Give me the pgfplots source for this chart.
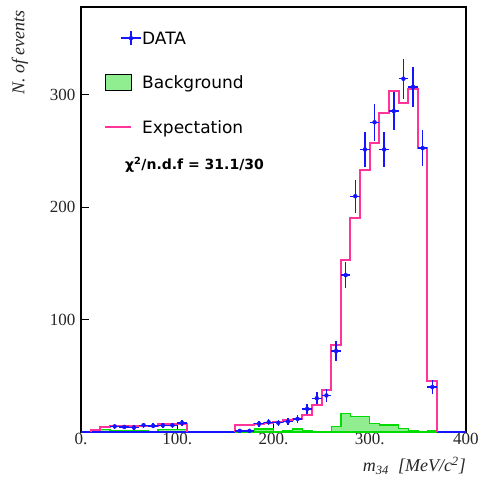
\documentclass[border=0pt]{standalone}
\usepackage{pgfplots}
\pgfplotsset{compat=1.18}
\usepackage{pgfplotstable}
\usepackage{fontspec}
\setmainfont{Liberation Serif}
\newfontfamily\legfont{DejaVu Sans}
\definecolor{hpink}{RGB}{255,51,153}
\definecolor{bgfill}{RGB}{144,238,144}
\definecolor{bgline}{RGB}{0,220,0}
\definecolor{dblue}{RGB}{20,20,255}

\pgfplotstableread{
x y ey
35 5 2.2
45 4.5 2.1
55 4 2
65 6 2.4
75 5.5 2.3
85 6 2.4
95 6 2.4
105 8 2.8
165 1 1
175 1 1
185 7.3 2.7
195 8.7 2.9
205 8.2 2.9
215 9.3 3
225 11.7 3.4
235 20.6 4.5
245 30 5.5
255 32.5 5.7
265 72 8.5
275 139.5 11.8
285 209.7 14.5
295 251.3 15.9
305 275.5 16.6
315 251.3 15.9
325 285.4 16.9
335 314.2 17.7
345 307 17.5
355 252.5 15.9
365 40 6.3
}\datatab

\pgfplotstableread{
x y
10 0
10 1.5
20 4.5
30 5
40 5
50 5
60 5
70 5.5
80 7.5
90 7.5
100 7.5
110 0
}\expA

\pgfplotstableread{
x y
160 0
160 6.4
170 6.4
180 7.5
190 8
200 9
210 11
220 12
230 15
240 24
250 37
260 77
270 153
280 190
290 233
300 257
310 284
320 303.5
330 292.5
340 305
350 253
360 45
370 0
}\expB

\pgfplotstableread{
x y
20 2
30 1.5
40 1
50 1.5
60 1.5
70 0
80 2
90 2
100 2.5
110 0
}\bgA

\pgfplotstableread{
x y
160 1
170 1
180 2.8
190 2.8
200 0.5
210 1.5
220 2.8
230 1.5
240 0
250 0
260 4.9
270 16.5
280 13.8
290 13.8
300 7.6
310 6.2
320 6.2
330 3.2
340 1.4
350 0
360 1.5
370 0
}\bgB

\begin{document}
\begin{tikzpicture}
\begin{axis}[
  scale only axis,
  width=385pt, height=425pt,
  xmin=0, xmax=400, ymin=0, ymax=378,
  axis line style={black, line width=1.2pt},
  tick style={black, line width=1pt},
  tick align=inside,
  xtick pos=left, ytick pos=left,
  major tick length=8pt,
  xtick={0,100,200,300,400},
  xticklabels={0.,100.,200.,300.,400},
  ytick={100,200,300},
  yticklabels={100,200,300},
  minor tick num=0,
  /pgf/number format/assume math mode=true,
  ticklabel style={font=\fontsize{17}{20}\selectfont, color=black!85},
  xticklabel style={yshift=2pt},
  yticklabel style={xshift=-2pt},
  legend cell align=left,
  legend style={at={(axis description cs:0.0597,0.9459)}, anchor=north west,
    draw=none, fill=none, inner sep=0pt, outer sep=0pt, row sep=28pt,
    font=\legfont\fontsize{17}{20}\selectfont,
    nodes={inner sep=0pt, text height=14pt, text depth=2pt}},
  clip=false,
]
\addlegendimage{legend image code/.code={
  \path (0pt,-8pt) (37pt,8pt);
  \draw[dblue,line width=1.4pt] (16pt,0pt)--(36pt,0pt);
  \draw[dblue,line width=1.4pt] (26pt,-7pt)--(26pt,7pt);
  \fill[dblue] (26pt,0pt) circle (2pt);}}
\addlegendentry{DATA}
\addlegendimage{legend image code/.code={
  \path (0pt,-8pt) (37pt,8pt);
  \draw[black, fill=bgfill, line width=0.9pt] (0pt,-8pt) rectangle (26pt,8pt);}}
\addlegendentry{Background}
\addlegendimage{legend image code/.code={
  \path (0pt,-8pt) (37pt,8pt);
  \draw[hpink, line width=2pt] (0pt,0pt)--(26pt,0pt);}}
\addlegendentry{Expectation}

\addplot[const plot, fill=bgfill, draw=bgline, line width=1.3pt, forget plot] table[x=x,y=y]{\bgA} \closedcycle;
\addplot[const plot, fill=bgfill, draw=bgline, line width=1.3pt, forget plot] table[x=x,y=y]{\bgB} \closedcycle;
\addplot[dblue, line width=1.3pt, forget plot] coordinates {(0,0) (160,0)};
\addplot[dblue, line width=1.3pt, forget plot] coordinates {(370,0) (400,0)};
\addplot[const plot, hpink, line width=2pt, forget plot] table[x=x,y=y]{\expA};
\addplot[const plot, hpink, line width=2pt, forget plot] table[x=x,y=y]{\expB};
\addplot[dblue, only marks, mark=*, mark size=2pt, forget plot,
  error bars/.cd, x dir=both, x fixed=5, y dir=both, y explicit,
  error mark=none, error bar style={line width=1.4pt, dblue}]
  table[x=x,y=y,y error=ey]{\datatab};

\node[anchor=west, inner sep=0pt, font=\legfont\bfseries\fontsize{14}{16}\selectfont]
  at (axis description cs:0.114,0.628) {χ\textsuperscript{2}/n.d.f = 31.1/30};
\node[rotate=90, anchor=east, inner sep=0pt, font=\itshape\fontsize{18}{20}\selectfont, color=black!85]
  at ([xshift=-61pt,yshift=-3pt]axis description cs:0,1) {N. of events};
\node[anchor=north east, inner sep=0pt, font=\itshape\fontsize{18}{20}\selectfont, color=black!85]
  at ([yshift=-25pt]axis description cs:1,0) {m\textsubscript{34}\ \ [MeV/c\textsuperscript{2}]};
\end{axis}
\path (current axis.south west) ++(-81pt,-51pt) coordinate (BBA);
\path (current axis.north east) ++(13pt,7pt) coordinate (BBB);
\pgfresetboundingbox
\path[use as bounding box] (BBA) rectangle (BBB);
\end{tikzpicture}
\end{document}
